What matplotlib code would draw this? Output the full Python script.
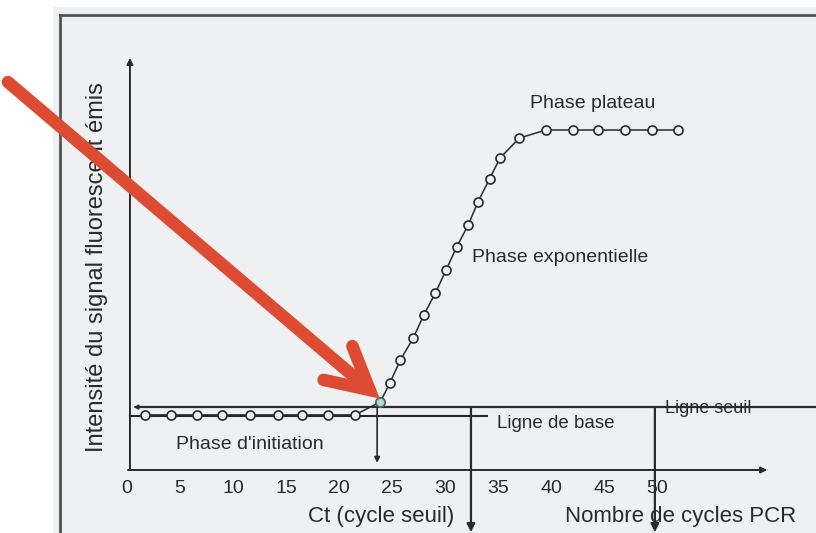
import matplotlib
matplotlib.use("Agg")
import matplotlib.pyplot as plt

plt.rcParams['font.family'] = ['Liberation Sans', 'DejaVu Sans']

# cycles PCR / intensité de fluorescence (unités arbitraires)
cycles = [1.7, 4.15, 6.6, 9.0, 11.6, 14.2, 16.5, 19.0, 21.5,
          23.9, 24.8, 25.8, 27.0, 28.0, 29.1, 30.1, 31.1, 32.2, 33.1, 34.2, 35.2,
          37.0, 39.5, 42.1, 44.4, 47.0, 49.5, 52.0]
fluo = [16.2, 16.2, 16.2, 16.2, 16.2, 16.2, 16.2, 16.2, 16.2,
        20.0, 25.6, 32.4, 38.8, 45.6, 52.1, 58.8, 65.6, 72.1, 78.8, 85.6, 91.8,
        97.6, 100, 100, 100, 100, 100, 100]
tick_values = [0, 5, 10, 15, 20, 25, 30, 35, 40, 45, 50]
ligne_base = 16.0
ligne_seuil = 18.5
ct = 23.6
repere_cycles = [32.45, 49.8]

ink = '#2a2a2a'
paper = '#eef0f1'

fig = plt.figure(figsize=(8.16, 5.33), dpi=100)
ax = fig.add_axes([0, 0, 1, 1])
ax.set_xlim(-11.98, 65.0)
ax.set_ylim(-18.53, 138.24)
ax.axis('off')

# page scannée + cadre
ax.add_patch(plt.Rectangle((-6.98, -18.53), 72, 154.7, color=paper, lw=0, zorder=0))
ax.plot([-6.32, -6.32], [-18.53, 133.8], color='#555555', lw=2.0, zorder=1)
ax.plot([-6.32, 65], [133.8, 133.8], color='#555555', lw=2.0, zorder=1)

# axes
ax.annotate('', xy=(0.28, 121.2), xytext=(0.28, 0),
            arrowprops=dict(arrowstyle='-|>', color=ink, lw=1.4, mutation_scale=9,
                            shrinkA=0, shrinkB=0))
ax.annotate('', xy=(60.4, 0), xytext=(0.1, 0),
            arrowprops=dict(arrowstyle='-|>', color=ink, lw=1.4, mutation_scale=9,
                            shrinkA=0, shrinkB=0))
for v in tick_values:
    ax.text(v, -5.3, str(v), ha='center', va='center', fontsize=14, color=ink)

# ligne de base et ligne seuil
ax.plot([0.3, 34.0], [ligne_base, ligne_base], color=ink, lw=1.5, zorder=2)
ax.plot([1.2, 65], [ligne_seuil, ligne_seuil], color=ink, lw=1.6, zorder=2)
ax.annotate('', xy=(0.6, ligne_seuil), xytext=(1.5, ligne_seuil),
            arrowprops=dict(arrowstyle='-|>', color=ink, lw=1.0, mutation_scale=7,
                            shrinkA=0, shrinkB=0))

# flèches verticales
ax.annotate('', xy=(ct, 2.1), xytext=(ct, ligne_seuil),
            arrowprops=dict(arrowstyle='-|>', color=ink, lw=1.2, mutation_scale=8,
                            shrinkA=0, shrinkB=0))
for c in repere_cycles:
    ax.annotate('', xy=(c, -18.3), xytext=(c, ligne_seuil),
                arrowprops=dict(arrowstyle='-|>', color=ink, lw=1.6, mutation_scale=12,
                                shrinkA=0, shrinkB=0))

# courbe d'amplification
ax.plot(cycles, fluo, color=ink, lw=1.1, marker='o', ms=6.5, mfc=paper,
        mec=ink, mew=1.2, zorder=3)
ax.plot([cycles[9]], [fluo[9]], marker='o', ms=6.5, mfc='#b9d6cc', mec='#3f7566',
        mew=1.2, zorder=4)

# textes
ax.text(43.96, 107.9, 'Phase plateau', ha='center', va='center', fontsize=14, color=ink)
ax.text(40.9, 62.4, 'Phase exponentielle', ha='center', va='center', fontsize=14, color=ink)
ax.text(11.56, 7.6, "Phase d'initiation", ha='center', va='center', fontsize=14, color=ink)
ax.text(34.9, 13.6, 'Ligne de base', ha='left', va='center', fontsize=13.5, color=ink)
ax.text(50.75, 18.0, 'Ligne seuil', ha='left', va='center', fontsize=13, color=ink)
ax.text(23.96, -13.8, 'Ct (cycle seuil)', ha='center', va='center', fontsize=16, color=ink)
ax.text(52.2, -13.8, 'Nombre de cycles PCR', ha='center', va='center', fontsize=16, color=ink)
ax.text(-2.83, 59.7, 'Intensité du signal fluorescent émis', rotation=90,
        ha='center', va='center', fontsize=17, color=ink)

# flèche rouge vers le Ct
ax.annotate('', xy=(23.85, 21.0), xytext=(-11.23, 114.1),
            arrowprops=dict(arrowstyle='->, head_length=0.75, head_width=0.4',
                            color='#dc4b32', lw=9, mutation_scale=40,
                            capstyle='round', joinstyle='miter',
                            shrinkA=0, shrinkB=0), zorder=10)

fig.savefig('out.png', dpi=100)
